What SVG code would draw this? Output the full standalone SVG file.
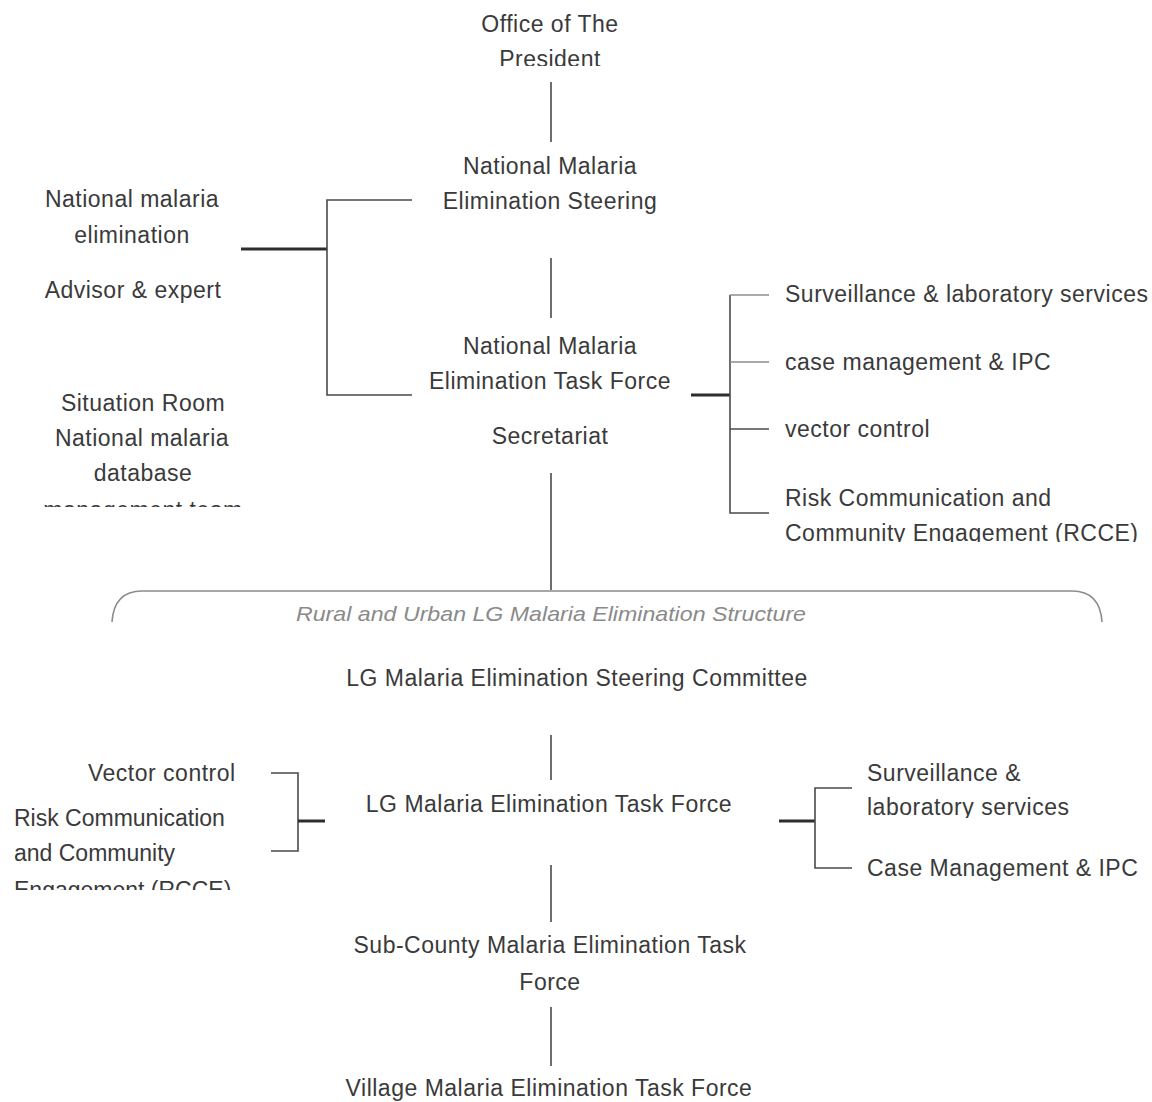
<svg xmlns="http://www.w3.org/2000/svg" width="1152" height="1102" viewBox="0 0 1152 1102">
<style>
text{font-family:"Liberation Sans",Arial,sans-serif;font-size:23px;letter-spacing:0.5px;fill:#3a3a3a}
.c{text-anchor:middle}
.ns{letter-spacing:0}
.it{font-style:italic;fill:#8a8a8a;font-size:21px;letter-spacing:0}
.ln{stroke:#4a4a4a;stroke-width:1.6;fill:none}
.gl{stroke:#8c8c8c;stroke-width:1.6;fill:none}
.tk{stroke:#2e2e2e;stroke-width:3;fill:none}
</style>
<defs>
<clipPath id="cp1"><rect x="0" y="0" width="1152" height="66"/></clipPath>
<clipPath id="cp2"><rect x="0" y="380" width="400" height="127"/></clipPath>
<clipPath id="cp3"><rect x="700" y="480" width="452" height="62"/></clipPath>
<clipPath id="cp4"><rect x="0" y="800" width="260" height="90"/></clipPath>
<clipPath id="cp5"><rect x="850" y="760" width="302" height="58"/></clipPath>
</defs>
<rect width="1152" height="1102" fill="#ffffff"/>
<g id="connectors">
<line class="ln" x1="551" y1="82" x2="551" y2="142"/>
<line class="ln" x1="551" y1="258" x2="551" y2="318"/>
<line class="ln" x1="551" y1="473" x2="551" y2="590"/>
<line class="tk" x1="241" y1="249" x2="327" y2="249"/>
<polyline class="ln" points="412,200 327,200 327,395 412,395"/>
<line class="tk" x1="691" y1="395" x2="730" y2="395"/>
<polyline class="ln" points="730,295 730,513 769,513"/>
<line class="gl" x1="730" y1="295" x2="769" y2="295"/>
<line class="gl" x1="730" y1="362" x2="769" y2="362"/>
<line class="ln" x1="730" y1="429" x2="769" y2="429"/>
<path class="gl" stroke-width="2" d="M112,622 Q114,591 142,591 L1072,591 Q1100,591 1102,622"/>
<line class="ln" x1="551" y1="735" x2="551" y2="780"/>
<polyline class="ln" points="271,773 298,773 298,851 271,851"/>
<line class="tk" x1="298" y1="821" x2="325" y2="821" stroke-width="2.4"/>
<line class="tk" x1="779" y1="821" x2="815" y2="821" stroke-width="2.4"/>
<polyline class="ln" points="852,788 815,788 815,868 852,868"/>
<line class="ln" x1="551" y1="865" x2="551" y2="922"/>
<line class="ln" x1="551" y1="1007" x2="551" y2="1066"/>
</g>
<g id="office"><g clip-path="url(#cp1)"><text class="c" x="550" y="32">Office of The</text><text class="c" x="550" y="67">President</text></g></g>
<g id="steering"><text class="c" x="550" y="174">National Malaria</text><text class="c" x="550" y="209">Elimination Steering</text></g>
<g id="taskforce"><text class="c" x="550" y="354">National Malaria</text><text class="c" x="550" y="389">Elimination Task Force</text><text class="c" x="550" y="444">Secretariat</text></g>
<g id="advisor"><text class="c" x="132" y="207">National malaria</text><text class="c" x="132" y="243">elimination</text><text class="c" x="133" y="298">Advisor &amp; expert</text></g>
<g id="situation"><g clip-path="url(#cp2)"><text class="c" x="143" y="411">Situation Room</text><text class="c" x="142" y="446">National malaria</text><text class="c" x="143" y="481">database</text><text class="c" x="143" y="518">management team</text></g></g>
<g id="n-surv"><text x="785" y="302">Surveillance &amp; laboratory services</text></g>
<g id="n-case"><text x="785" y="370">case management &amp; IPC</text></g>
<g id="n-vector"><text x="785" y="437">vector control</text></g>
<g id="n-rcce"><g clip-path="url(#cp3)"><text x="785" y="506">Risk Communication and</text><text x="785" y="541">Community Engagement (RCCE)</text></g></g>
<g id="lg-structure"><text class="c it" x="551" y="621" textLength="510" lengthAdjust="spacingAndGlyphs">Rural and Urban LG Malaria Elimination Structure</text></g>
<g id="lg-steering"><text class="c" x="577" y="686">LG Malaria Elimination Steering Committee</text></g>
<g id="lg-taskforce"><text class="c" x="549" y="812">LG Malaria Elimination Task Force</text></g>
<g id="lg-vector"><text x="88" y="781">Vector control</text></g>
<g id="lg-rcce"><g clip-path="url(#cp4)"><text class="ns" x="14" y="826">Risk Communication</text><text class="ns" x="14" y="861">and Community</text><text class="ns" x="14" y="898">Engagement (RCCE)</text></g></g>
<g id="lg-surv"><g clip-path="url(#cp5)"><text x="867" y="781">Surveillance &amp;</text><text x="867" y="815">laboratory services</text></g></g>
<g id="lg-case"><text x="867" y="876">Case Management &amp; IPC</text></g>
<g id="subcounty"><text class="c" x="550" y="953">Sub-County Malaria Elimination Task</text><text class="c" x="550" y="990">Force</text></g>
<g id="village"><text class="c" x="549" y="1096">Village Malaria Elimination Task Force</text></g>
</svg>
